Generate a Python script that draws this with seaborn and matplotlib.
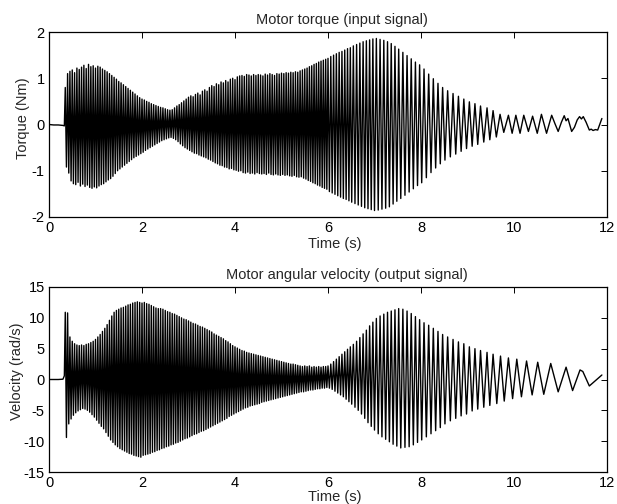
import matplotlib
matplotlib.use('Agg')
import matplotlib.pyplot as plt
import seaborn as sns
import pandas as pd
import numpy as np

# values: extremes (peak / trough) of each half cycle

# quiet part before the excitation starts
pre_t = [0.0, 0.10, 0.20, 0.30, 0.33]
pre_torque = [0.0, -0.01, -0.01, -0.02, -0.03]
pre_velocity = [0.0, 0.0, 0.0, 0.05, 0.6]

# dense burst 0.35 s .. 6 s
burst_t = [
    0.350, 0.375, 0.400, 0.425, 0.450, 0.475, 0.500, 0.525,
    0.550, 0.575, 0.600, 0.625, 0.650, 0.675, 0.700, 0.725,
    0.750, 0.775, 0.800, 0.825, 0.850, 0.875, 0.900, 0.925,
    0.950, 0.975, 1.000, 1.025, 1.050, 1.075, 1.100, 1.125,
    1.150, 1.175, 1.200, 1.225, 1.250, 1.275, 1.300, 1.325,
    1.350, 1.375, 1.400, 1.425, 1.450, 1.475, 1.500, 1.525,
    1.550, 1.575, 1.600, 1.625, 1.650, 1.675, 1.700, 1.725,
    1.750, 1.775, 1.800, 1.825, 1.850, 1.875, 1.900, 1.925,
    1.950, 1.975, 2.000, 2.025, 2.050, 2.075, 2.100, 2.125,
    2.150, 2.175, 2.200, 2.225, 2.250, 2.275, 2.300, 2.325,
    2.350, 2.375, 2.400, 2.425, 2.450, 2.475, 2.500, 2.525,
    2.550, 2.575, 2.600, 2.625, 2.650, 2.675, 2.700, 2.725,
    2.750, 2.775, 2.800, 2.825, 2.850, 2.875, 2.900, 2.925,
    2.950, 2.975, 3.000, 3.025, 3.050, 3.075, 3.100, 3.125,
    3.150, 3.175, 3.200, 3.225, 3.250, 3.275, 3.300, 3.325,
    3.350, 3.375, 3.400, 3.425, 3.450, 3.475, 3.500, 3.525,
    3.550, 3.575, 3.600, 3.625, 3.650, 3.675, 3.700, 3.725,
    3.750, 3.775, 3.800, 3.825, 3.850, 3.875, 3.900, 3.925,
    3.950, 3.975, 4.000, 4.025, 4.050, 4.075, 4.100, 4.125,
    4.150, 4.175, 4.200, 4.225, 4.250, 4.275, 4.300, 4.325,
    4.350, 4.375, 4.400, 4.425, 4.450, 4.475, 4.500, 4.525,
    4.550, 4.575, 4.600, 4.625, 4.650, 4.675, 4.700, 4.725,
    4.750, 4.775, 4.800, 4.825, 4.850, 4.875, 4.900, 4.925,
    4.950, 4.975, 5.000, 5.025, 5.050, 5.075, 5.100, 5.125,
    5.150, 5.175, 5.200, 5.225, 5.250, 5.275, 5.300, 5.325,
    5.350, 5.375, 5.400, 5.425, 5.450, 5.475, 5.500, 5.525,
    5.550, 5.575, 5.600, 5.625, 5.650, 5.675, 5.700, 5.725,
    5.750, 5.775, 5.800, 5.825, 5.850, 5.875, 5.900, 5.925,
    5.950, 5.975, 6.000,
]
burst_torque = [
    0.80, -0.92, 1.10, -1.05, 1.15, -1.22, 1.18, -1.28,
    1.12, -1.30, 1.22, -1.25, 1.19, -1.33, 1.24, -1.29,
    1.28, -1.34, 1.21, -1.31, 1.30, -1.36, 1.25, -1.38,
    1.27, -1.35, 1.22, -1.37, 1.26, -1.33, 1.24, -1.30,
    1.20, -1.28, 1.17, -1.24, 1.14, -1.20, 1.10, -1.17,
    1.06, -1.12, 1.02, -1.06, 0.98, -1.00, 0.93, -0.96,
    0.90, -0.92, 0.86, -0.88, 0.82, -0.84, 0.78, -0.80,
    0.74, -0.76, 0.70, -0.72, 0.66, -0.69, 0.62, -0.66,
    0.58, -0.63, 0.55, -0.60, 0.53, -0.56, 0.50, -0.53,
    0.48, -0.50, 0.45, -0.47, 0.43, -0.44, 0.41, -0.41,
    0.39, -0.38, 0.37, -0.35, 0.36, -0.33, 0.34, -0.31,
    0.32, -0.29, 0.31, -0.28, 0.32, -0.30, 0.36, -0.33,
    0.40, -0.37, 0.43, -0.42, 0.47, -0.46, 0.51, -0.50,
    0.55, -0.53, 0.59, -0.56, 0.62, -0.59, 0.60, -0.62,
    0.65, -0.63, 0.68, -0.66, 0.64, -0.68, 0.72, -0.70,
    0.75, -0.72, 0.72, -0.75, 0.80, -0.77, 0.84, -0.80,
    0.82, -0.83, 0.88, -0.85, 0.86, -0.88, 0.92, -0.89,
    0.90, -0.92, 0.95, -0.93, 0.92, -0.96, 0.98, -0.95,
    1.00, -0.98, 0.97, -0.99, 1.03, -1.01, 1.05, -1.00,
    1.06, -1.04, 1.04, -1.05, 1.08, -1.03, 1.07, -1.06,
    1.05, -1.05, 1.08, -1.07, 1.06, -1.04, 1.08, -1.06,
    1.07, -1.07, 1.05, -1.06, 1.09, -1.08, 1.07, -1.05,
    1.10, -1.08, 1.08, -1.09, 1.06, -1.07, 1.10, -1.09,
    1.09, -1.10, 1.11, -1.08, 1.10, -1.10, 1.12, -1.09,
    1.11, -1.11, 1.13, -1.12, 1.12, -1.10, 1.14, -1.13,
    1.13, -1.14, 1.16, -1.13, 1.18, -1.16, 1.20, -1.18,
    1.22, -1.21, 1.25, -1.23, 1.27, -1.26, 1.30, -1.28,
    1.32, -1.31, 1.35, -1.33, 1.37, -1.36, 1.39, -1.38,
    1.41, -1.40, 1.43,
]
burst_velocity = [
    10.9, -9.4, 10.8, -7.2, 6.9, -6.4, 6.2, -5.8,
    5.8, -5.4, 5.6, -5.1, 5.5, -4.9, 5.6, -4.7,
    5.5, -4.8, 5.7, -5.0, 5.8, -5.3, 6.0, -5.7,
    6.2, -6.1, 6.5, -6.6, 6.9, -7.1, 7.3, -7.6,
    7.8, -8.0, 8.3, -8.6, 8.9, -9.2, 9.6, -9.8,
    10.3, -10.2, 10.9, -10.6, 11.2, -10.9, 11.4, -11.2,
    11.6, -11.4, 11.7, -11.6, 11.9, -11.8, 12.1, -12.0,
    12.2, -12.1, 12.4, -12.3, 12.5, -12.4, 12.6, -12.5,
    12.5, -12.6, 12.4, -12.3, 12.5, -12.2, 12.3, -12.1,
    12.2, -12.0, 12.0, -11.8, 11.8, -11.7, 11.6, -11.5,
    11.5, -11.4, 11.5, -11.2, 11.4, -11.1, 11.2, -10.9,
    11.0, -10.8, 10.9, -10.6, 10.7, -10.5, 10.6, -10.3,
    10.4, -10.2, 10.2, -10.0, 10.0, -9.8, 9.8, -9.6,
    9.7, -9.5, 9.5, -9.3, 9.3, -9.1, 9.1, -8.9,
    9.0, -8.8, 8.8, -8.6, 8.6, -8.4, 8.5, -8.3,
    8.3, -8.1, 8.1, -7.9, 7.9, -7.7, 7.7, -7.5,
    7.4, -7.3, 7.2, -7.1, 7.0, -6.9, 6.8, -6.7,
    6.6, -6.5, 6.3, -6.3, 6.1, -6.0, 5.8, -5.8,
    5.5, -5.6, 5.3, -5.4, 5.1, -5.2, 4.9, -5.0,
    4.7, -4.8, 4.6, -4.6, 4.4, -4.5, 4.3, -4.3,
    4.2, -4.2, 4.1, -4.1, 4.0, -4.0, 3.9, -3.9,
    3.8, -3.7, 3.7, -3.6, 3.6, -3.5, 3.5, -3.4,
    3.4, -3.3, 3.3, -3.2, 3.2, -3.1, 3.1, -3.0,
    3.0, -2.9, 2.9, -2.8, 2.8, -2.7, 2.7, -2.6,
    2.6, -2.5, 2.5, -2.4, 2.5, -2.3, 2.4, -2.2,
    2.3, -2.1, 2.2, -2.0, 2.1, -2.0, 2.2, -1.9,
    2.1, -1.8, 2.2, -1.7, 2.0, -1.7, 2.1, -1.6,
    2.0, -1.5, 2.1, -1.5, 2.0, -1.4, 2.1, -1.4,
    2.1, -1.3, 2.2,
]

# slower decaying part 6 s .. 9.55 s
decay_t = [
    6.03, 6.06, 6.09, 6.12, 6.15, 6.18, 6.21, 6.24, 6.27, 6.30, 6.33, 6.36,
    6.39, 6.42, 6.45, 6.48, 6.51,
    6.545, 6.58, 6.615, 6.65, 6.685, 6.72, 6.755, 6.79, 6.825, 6.86, 6.895,
    6.93, 6.965, 7.00,
    7.04, 7.08, 7.12, 7.16, 7.20, 7.24, 7.28, 7.32, 7.36, 7.40, 7.44, 7.48, 7.52,
    7.565, 7.61, 7.655, 7.70, 7.745, 7.79, 7.835, 7.88, 7.925, 7.97, 8.015,
    8.065, 8.115, 8.165, 8.215, 8.265, 8.315, 8.365, 8.415, 8.465, 8.515,
    8.573, 8.631, 8.689, 8.747, 8.805, 8.863, 8.921, 8.979,
    9.04, 9.10, 9.16, 9.22, 9.28, 9.35, 9.42, 9.48, 9.55,
]
decay_torque = [
    -1.45, 1.47, -1.48, 1.50, -1.51, 1.53, -1.54, 1.56, -1.57, 1.58, -1.60, 1.61,
    -1.62, 1.64, -1.65, 1.66, -1.68,
    1.70, -1.71, 1.73, -1.74, 1.76, -1.77, 1.79, -1.80, 1.81, -1.82, 1.83,
    -1.84, 1.85, -1.86,
    1.86, -1.85, 1.84, -1.83, 1.82, -1.81, 1.79, -1.78, 1.75, -1.72, 1.69, -1.66, 1.63,
    -1.60, 1.56, -1.53, 1.49, -1.46, 1.42, -1.39, 1.35, -1.32, 1.29, -1.26,
    1.20, -1.15, 1.09, -1.04, 0.99, -0.94, 0.89, -0.85, 0.80, -0.77,
    0.73, -0.70, 0.67, -0.64, 0.61, -0.58, 0.55, -0.52,
    0.49, -0.47, 0.45, -0.43, 0.40, -0.38, 0.36, -0.33, 0.30,
]
decay_velocity = [
    -1.4, 2.5, -1.6, 2.9, -1.9, 3.3, -2.2, 3.7, -2.5, 4.1, -2.8, 4.5,
    -3.2, 4.9, -3.6, 5.3, -4.0,
    5.7, -4.5, 6.2, -5.0, 6.8, -5.6, 7.4, -6.3, 8.0, -7.0, 8.7,
    -7.6, 9.3, -8.2,
    9.9, -8.8, 10.3, -9.3, 10.6, -9.7, 10.9, -10.1, 11.1, -10.5, 11.3, -10.8, 11.5,
    -11.1, 11.4, -11.0, 11.1, -10.9, 10.7, -10.6, 10.2, -10.2, 9.7, -9.8,
    9.2, -9.3, 8.8, -8.8, 8.3, -8.3, 7.8, -7.8, 7.3, -7.2,
    6.9, -6.7, 6.5, -6.3, 6.1, -5.9, 5.8, -5.6,
    5.3, -5.1, 5.0, -4.8, 4.7, -4.5, 4.4, -4.2, 4.1,
]

# last few seconds, each signal read separately
torque_tail_t = [
    9.62, 9.70, 9.78, 9.88, 9.96, 10.04, 10.13, 10.21, 10.31, 10.40, 10.50,
    10.59, 10.70, 10.81, 10.88, 10.95, 11.02, 11.08, 11.12, 11.16, 11.24,
    11.30, 11.36, 11.41, 11.45, 11.49, 11.55, 11.62, 11.66, 11.70, 11.75,
    11.80, 11.85, 11.89,
]
torque_tail = [
    -0.27, 0.22, -0.17, 0.20, -0.19, 0.20, -0.19, 0.20, -0.15, 0.18, -0.19,
    0.22, -0.19, 0.20, 0.02, -0.15, 0.05, 0.19, 0.08, 0.13, -0.15,
    -0.06, 0.10, 0.17, 0.12, 0.17, 0.05, -0.12, -0.10, -0.13, -0.11,
    -0.12, 0.02, 0.13,
]
velocity_tail_t = [
    9.63, 9.71, 9.79, 9.88, 9.97, 10.06, 10.16, 10.27, 10.39, 10.51, 10.64,
    10.79, 10.95, 11.12, 11.26, 11.42, 11.48, 11.62, 11.75, 11.89,
]
velocity_tail = [
    -3.9, 3.8, -3.5, 3.5, -3.1, 3.3, -2.8, 3.0, -2.5, 2.8, -2.4,
    2.6, -2.0, 2.0, -1.8, 1.55, 1.3, -1.05, -0.2, 0.73,
]

x_ticks = [0, 2, 4, 6, 8, 10, 12]
torque_ticks = [-2, -1, 0, 1, 2]
velocity_ticks = [-15, -10, -5, 0, 5, 10, 15]


torque_df = pd.DataFrame({
    "time": np.concatenate([pre_t, burst_t, decay_t, torque_tail_t]),
    "value": np.concatenate([pre_torque, burst_torque, decay_torque, torque_tail]),
})
velocity_df = pd.DataFrame({
    "time": np.concatenate([pre_t, burst_t, decay_t, velocity_tail_t]),
    "value": np.concatenate([pre_velocity, burst_velocity, decay_velocity, velocity_tail]),
})

sns.set_theme(style="white")
plt.rcParams['font.family'] = ['Liberation Sans', 'DejaVu Sans']
plt.rcParams['axes.unicode_minus'] = False

fig = plt.figure(figsize=(6.17, 5.04), dpi=100)
ax1 = fig.add_axes([49 / 617, 1 - 217 / 504, 558 / 617, 185 / 504])
ax2 = fig.add_axes([49 / 617, 1 - 472 / 504, 558 / 617, 185 / 504])

# title x, ylabel y (axes fraction), ylabel pad, xlabel pad
panels = [
    (ax1, torque_df, "Motor torque (input signal)", "Torque (Nm)",
     (-2, 2), torque_ticks, 0.525, 0.532, 1.5, 1.5),
    (ax2, velocity_df, "Motor angular velocity (output signal)", "Velocity (rad/s)",
     (-15, 15), velocity_ticks, 0.534, 0.546, -0.5, 0),
]

for ax, df, title, ylabel, ylim, yticks, tx, ly, ypad, xpad in panels:
    sns.lineplot(data=df, x="time", y="value", ax=ax, color="black",
                 linewidth=1.0, estimator=None, sort=False)
    ax.set_xlim(0, 12)
    ax.set_ylim(*ylim)
    ax.set_xticks(x_ticks)
    ax.set_yticks(yticks)
    ax.set_title(title, fontsize=10.5, pad=6)
    ax.title.set_x(tx)
    ax.set_xlabel("Time (s)", fontsize=10.5, labelpad=xpad, x=0.5125)
    ax.set_ylabel(ylabel, fontsize=10.5, labelpad=ypad, y=ly)
    ax.tick_params(direction="in", top=True, right=True, length=4, width=0.7,
                   labelsize=10.5, pad=3, colors="black")
    for sp in ax.spines.values():
        sp.set_color("black")
        sp.set_linewidth(0.9)

plt.savefig("out.png", dpi=100, facecolor="white")
plt.close()
